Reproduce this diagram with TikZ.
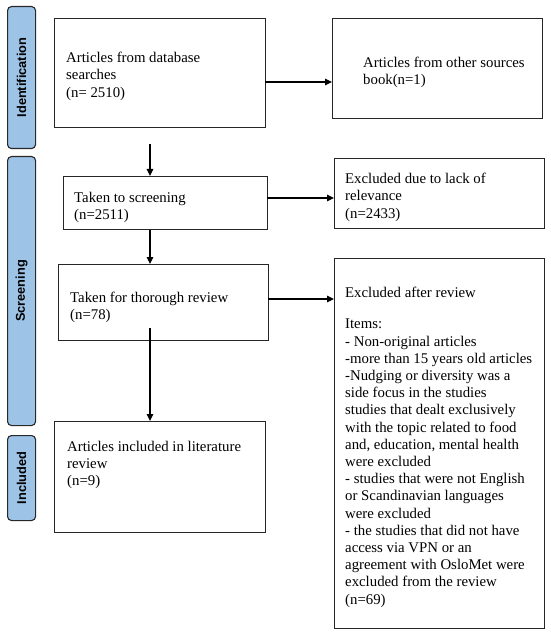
\documentclass[tikz,border=0pt]{standalone}
\usepackage{fontspec}
\setmainfont{Liberation Serif}
\newfontfamily\phasefont{Liberation Sans}
\usetikzlibrary{arrows.meta}
\definecolor{phaseblue}{RGB}{157,195,230}
\definecolor{phaseedge}{RGB}{40,40,40}
\begin{document}
\begin{tikzpicture}[x=1pt,y=-1pt,
  box/.style={draw=black!85, line width=1.3pt, anchor=north west, inner sep=0},
  txt/.style={anchor=north west, inner sep=0, align=left, font=\fontsize{14.8}{17.2}\selectfont},
  phase/.style={draw=phaseedge, line width=1.1pt, fill=phaseblue, rounded corners=4pt, anchor=north west, inner sep=0, minimum width=28pt},
  phaselabel/.style={rotate=90, inner sep=0, font=\phasefont\bfseries\fontsize{12.8}{14}\selectfont},
  arr/.style={line width=1.2pt, -{Triangle[length=7pt,width=6.5pt]}}]
\useasboundingbox (0,0) rectangle (550,636);
\fill[white] (0,0) rectangle (550,636);

% phase labels
\node[phase, minimum height=142pt] (P1) at (7,6) {};
\node[phaselabel] (P1t) at (P1.center) {Identification};
\node[phase, minimum height=269pt] (P2) at (7,156) {};
\node[phaselabel] (P2t) at (P2.center) {Screening};
\node[phase, minimum height=85pt] (P3) at (7,435) {};
\node[phaselabel] (P3t) at (P3.center) {Included};

% boxes
\node[box, minimum width=211pt, minimum height=109pt] (A) at (54,18) {};
\node[txt] (At) at (66,52) {Articles from database\\searches\\(n= 2510)};

\node[box, minimum width=210pt, minimum height=100pt] (B) at (332,18) {};
\node[txt] (Bt) at (363,57) {Articles from other sources\\book(n=1)};

\node[box, minimum width=204pt, minimum height=53pt] (C) at (63,176) {};
\node[txt] (Ct) at (74,192) {Taken to screening\\(n=2511)};

\node[box, minimum width=210pt, minimum height=70pt] (D) at (334,158) {};
\node[txt] (Dt) at (345,173) {Excluded due to lack of\\relevance\\(n=2433)};

\node[box, minimum width=210pt, minimum height=76pt] (E) at (58,264) {};
\node[txt] (Et) at (70,292) {Taken for thorough review\\(n=78)};

\node[box, minimum width=210pt, minimum height=370pt] (F) at (334,258) {};
\node[txt] (Ft) at (345,287) {Excluded after review\\[14pt]
Items:\\
- Non-original articles\\
-more than 15 years old articles\\
-Nudging or diversity was a\\
side focus in the studies\\
studies that dealt exclusively\\
with the topic related to food\\
and, education, mental health\\
were excluded\\
- studies that were not English\\
or Scandinavian languages\\
were excluded\\
- the studies that did not have\\
access via VPN or an\\
agreement with OsloMet were\\
excluded from the review\\
(n=69)};

\node[box, minimum width=211pt, minimum height=111pt] (G) at (54,421) {};
\node[txt] (Gt) at (67,441) {Articles included in literature\\review\\(n=9)};

% connectors
\coordinate (ab) at (265,82);
\draw[arr] (ab) -- (ab -| B.west);
\coordinate (a1) at (150,144);
\draw[arr] (a1) -- (a1 |- C.north);
\coordinate (cd) at (267,198);
\draw[arr] (cd) -- (cd -| D.west);
\draw[arr] (a1 |- C.south) -- (a1 |- E.north);
\coordinate (ef) at (268,299);
\draw[arr] (ef) -- (ef -| F.west);
\coordinate (eg) at (150,328);
\draw[arr] (eg) -- (eg |- G.north);
\end{tikzpicture}
\end{document}
